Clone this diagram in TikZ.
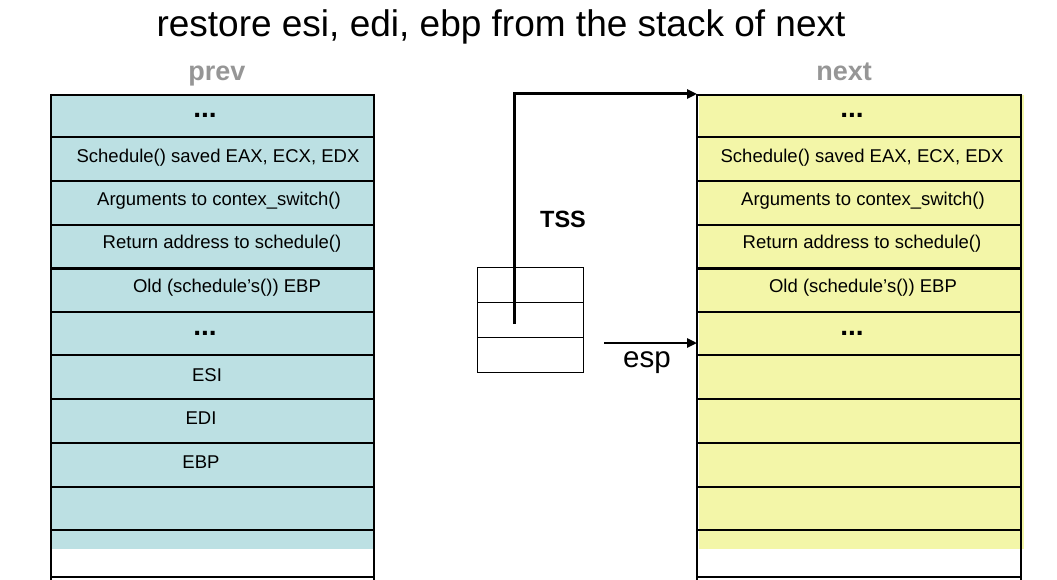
\documentclass[tikz,border=0pt]{standalone}
\usepackage{fontspec}
\setmainfont{Liberation Sans}
\usetikzlibrary{arrows.meta}
\definecolor{prevfill}{RGB}{188,224,227}
\definecolor{nextfill}{RGB}{243,246,168}
\definecolor{labelgray}{RGB}{150,150,150}
\begin{document}
\begin{tikzpicture}[x=1pt,y=-1pt,
  rowtext/.style={font=\fontsize{18.5}{20}\selectfont, inner sep=0pt, anchor=base},
  dotstext/.style={font=\fontsize{28}{30}\selectfont\bfseries, inner sep=0pt, anchor=base},
  stacklabel/.style={font=\fontsize{27}{30}\selectfont\bfseries, text=labelgray, inner sep=0pt, anchor=base},
  rowline/.style={line width=2pt},
  sepline/.style={line width=3pt},
  border/.style={line width=2.5pt},
  tsscell/.style={draw, line width=1pt, minimum width=106pt, minimum height=35pt, inner sep=0pt},
  ptr/.style={line width=3pt, -{Triangle[length=10pt,width=9pt]}},
  espptr/.style={line width=2.5pt, -{Triangle[length=10pt,width=9pt]}}]
\useasboundingbox (0,0) rectangle (1057,580);

% title
\node[font=\fontsize{37}{40}\selectfont, inner sep=0pt, anchor=base] (title) at (501,37) {restore esi, edi, ebp from the stack of next};

% stack labels
\node[stacklabel] (prevlabel) at (217,81) {prev};
\node[stacklabel] (nextlabel) at (844,81) {next};

% fills
\fill[prevfill] (52,95) rectangle (373,549);
\fill[nextfill] (699,95) rectangle (1024,549);

% row lines
\foreach \y in {95,137,181,225,312,355,399,443,487,530,577} {
  \draw[rowline] (51,\y) -- (374,\y);
  \draw[rowline] (698,\y) -- (1020,\y);
}
\draw[sepline] (51,268) -- (374,268);
\draw[sepline] (698,268) -- (1020,268);

% borders
\draw[border] (51,94) -- (51,580);
\draw[border] (374,94) -- (374,580);
\draw[border] (697,94) -- (697,580);
\draw[border] (1021,94) -- (1021,580);

% prev stack texts
\node[dotstext] (p1) at (205,118) {...};
\node[rowtext] (p2) at (218,163) {Schedule() saved EAX, ECX, EDX};
\node[rowtext] (p3) at (219,205) {Arguments to contex\_switch()};
\node[rowtext] (p4) at (222,248) {Return address to schedule()};
\node[rowtext] (p5) at (227,292) {Old (schedule’s()) EBP};
\node[dotstext] (p6) at (205,335) {...};
\node[rowtext] (p7) at (207,381) {ESI};
\node[rowtext] (p8) at (201,424) {EDI};
\node[rowtext] (p9) at (201,468) {EBP};

% next stack texts
\node[dotstext] (n1) at (852,118) {...};
\node[rowtext] (n2) at (862,163) {Schedule() saved EAX, ECX, EDX};
\node[rowtext] (n3) at (863,205) {Arguments to contex\_switch()};
\node[rowtext] (n4) at (862,248) {Return address to schedule()};
\node[rowtext] (n5) at (863,292) {Old (schedule’s()) EBP};
\node[dotstext] (n6) at (852,335) {...};

% TSS
\node[tsscell] (tss1) at (530,284.5) {};
\node[tsscell] (tss2) at (530,319.5) {};
\node[tsscell] (tss3) at (530,354.5) {};
\node[font=\fontsize{23.5}{26}\selectfont\bfseries, inner sep=0pt, anchor=base] (tsslabel) at (563,227) {TSS};

% pointers
\coordinate (tssptr) at (514,324);
\coordinate (nexttop) at (697,94);
\draw[ptr] (tssptr) |- (nexttop);

\coordinate (espstart) at (604,343);
\coordinate (espend) at (697,343);
\draw[espptr] (espstart) -- (espend);
\node[font=\fontsize{29.5}{32}\selectfont, inner sep=0pt, anchor=base] (esplabel) at (647,367) {esp};
\end{tikzpicture}
\end{document}
